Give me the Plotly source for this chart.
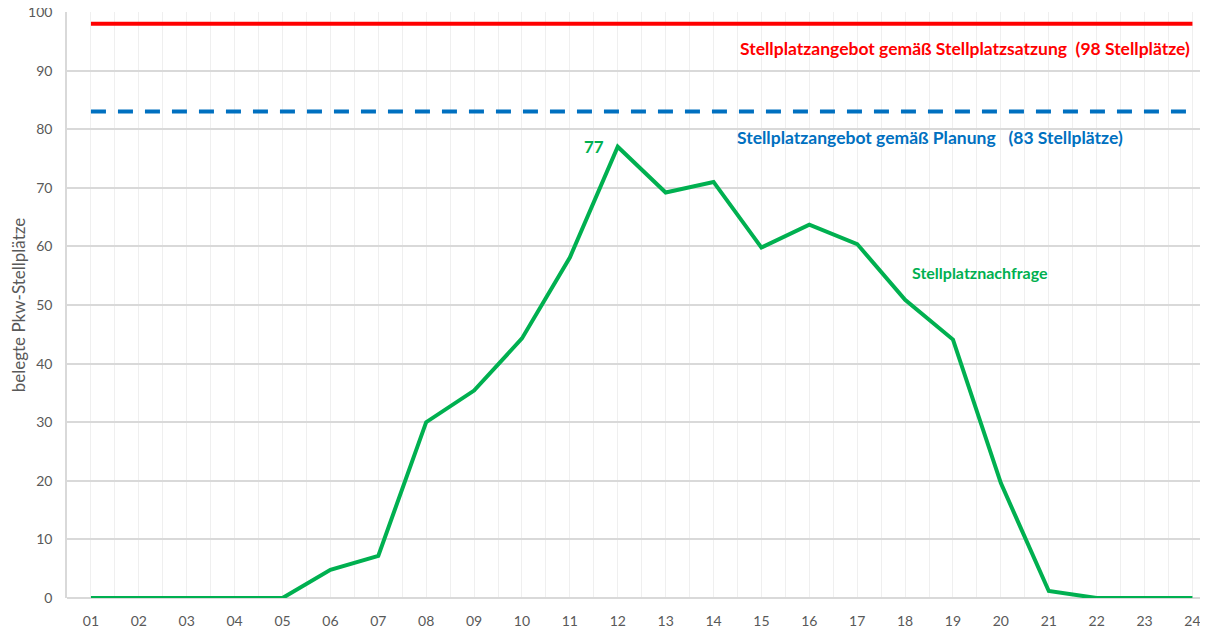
import plotly.graph_objects as go

hours = ["01", "02", "03", "04", "05", "06", "07", "08", "09", "10", "11", "12",
         "13", "14", "15", "16", "17", "18", "19", "20", "21", "22", "23", "24"]
nachfrage = [0, 0, 0, 0, 0, 4.8, 7.2, 30.0, 35.4, 44.3, 58.1, 77.0,
             69.2, 71.0, 59.8, 63.7, 60.4, 50.9, 44.1, 19.6, 1.2, 0, 0, 0]
angebot_satzung = [98] * 24
angebot_planung = [83] * 24
y_ticks = [0, 10, 20, 30, 40, 50, 60, 70, 80, 90, 100]

xi = list(range(len(hours)))
FONT = "Lato"

fig = go.Figure()
fig.add_trace(go.Scatter(x=xi, y=angebot_satzung, mode="lines",
                         line=dict(color="#ff0000", width=4), hoverinfo="skip"))
fig.add_trace(go.Scatter(x=xi, y=angebot_planung, mode="lines",
                         line=dict(color="#0070c0", width=4, dash="15px,12px"), hoverinfo="skip"))
fig.add_trace(go.Scatter(x=xi, y=nachfrage, mode="lines",
                         line=dict(color="#00b050", width=4), hoverinfo="skip"))

peak_i = nachfrage.index(max(nachfrage))
fig.add_annotation(x=peak_i, y=nachfrage[peak_i], text="<b>%d</b>" % round(nachfrage[peak_i]),
                   showarrow=False, xanchor="right", yanchor="middle", xshift=-12,
                   font=dict(family=FONT, size=17, color="#00b050"))
fig.add_annotation(x=23, y=93.7, text="<b>Stellplatzangebot gemäß Stellplatzsatzung  (98 Stellplätze)</b>",
                   showarrow=False, xanchor="right", yanchor="middle",
                   font=dict(family=FONT, size=17.5, color="#ff0000"))
fig.add_annotation(x=13.45, y=78.5, text="<b>Stellplatzangebot gemäß Planung   (83 Stellplätze)</b>",
                   showarrow=False, xanchor="left", yanchor="middle",
                   font=dict(family=FONT, size=17.5, color="#0070c0"))
fig.add_annotation(x=17.1, y=55.5, text="<b>Stellplatznachfrage</b>",
                   showarrow=False, xanchor="left", yanchor="middle",
                   font=dict(family=FONT, size=16, color="#00b050"))

# page body has an 8px margin, so the figure is sized to fill the rest of the window
fig.update_layout(
    width=1200, height=621,
    margin=dict(l=59, r=0, t=4, b=31, autoexpand=False),
    plot_bgcolor="white", paper_bgcolor="white",
    showlegend=False,
    font=dict(family=FONT, color="#595959"),
)
fig.update_xaxes(
    range=[-0.5, 23.325], tickmode="array", tickvals=xi, ticktext=hours,
    showgrid=True, gridcolor="#efefef", gridwidth=1,
    minor=dict(tick0=-0.5, dtick=1, showgrid=True, gridcolor="#efefef", gridwidth=1),
    showline=False, zeroline=False, ticks="", automargin=False,
    ticklabelstandoff=13, ticklabeloverflow="allow",
    tickfont=dict(family=FONT, size=14, color="#595959"),
)
fig.update_yaxes(
    range=[0, 100], tickmode="array", tickvals=y_ticks,
    showgrid=True, gridcolor="#d9d9d9", gridwidth=1.5,
    showline=True, linecolor="#d9d9d9", linewidth=1.5,
    zeroline=True, zerolinecolor="#d9d9d9", zerolinewidth=1.5,
    ticks="", ticklabelstandoff=10, automargin=False, ticklabeloverflow="allow",
    tickfont=dict(family=FONT, size=14, color="#595959"),
    title=dict(text="belegte Pkw-Stellplätze", font=dict(family=FONT, size=17, color="#595959"), standoff=17),
)

fig.write_html("out.html")
